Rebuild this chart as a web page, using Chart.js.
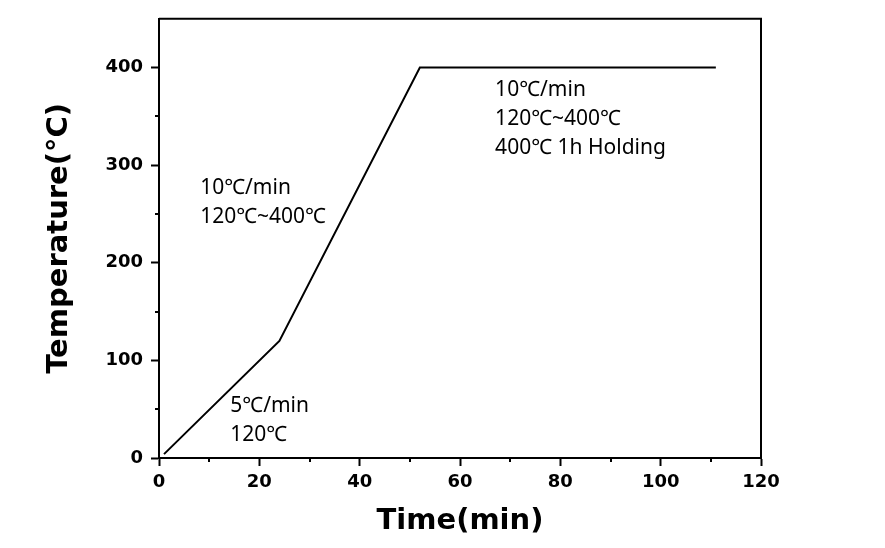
<!DOCTYPE html>
<html>
<head>
<meta charset="utf-8">
<script src="https://cdn.jsdelivr.net/npm/chart.js@4"></script>
<style>
  body { margin: 0; background: #fff; }
  #wrap { width: 885px; height: 548px; }
</style>
</head>
<body>
<div id="wrap"><canvas id="profile"></canvas></div>
<script>
// heating profile
var timeMin = [1, 24, 52, 111];
var tempC = [4, 120, 400, 400];

var xTicks = [0, 20, 40, 60, 80, 100, 120];
var xMinor = [10, 30, 50, 70, 90, 110];
var yTicks = [0, 100, 200, 300, 400];
var yMinor = [50, 150, 250, 350];

// text notes, anchored in data units (left edge, first baseline)
var notes = [
  { x: 8.2, y: 271, lines: ['10℃/min', '120℃~400℃'] },
  { x: 67, y: 371, lines: ['10℃/min', '120℃~400℃', '400℃ 1h Holding'] },
  { x: 14.2, y: 47, lines: ['5℃/min', '120℃'] }
];

var points = timeMin.map(function (t, i) { return { x: t, y: tempC[i] }; });

var tickFont = { family: 'DejaVu Sans', weight: 'bold', size: 18 };
var titleFont = { family: 'DejaVu Sans', weight: 'bold', size: 29 };

var extras = {
  id: 'extras',
  afterDraw: function (chart) {
    var ctx = chart.ctx;
    var a = chart.chartArea;
    var xs = chart.scales.x, ys = chart.scales.y;
    ctx.save();
    ctx.strokeStyle = '#000';
    ctx.lineWidth = 2;
    // top and right sides of the frame
    ctx.beginPath();
    ctx.moveTo(a.left, a.top);
    ctx.lineTo(a.right, a.top);
    ctx.lineTo(a.right, a.bottom);
    ctx.stroke();
    // minor ticks
    ctx.beginPath();
    xMinor.forEach(function (v) {
      var px = Math.round(xs.getPixelForValue(v));
      ctx.moveTo(px, a.bottom);
      ctx.lineTo(px, a.bottom + 4);
    });
    yMinor.forEach(function (v) {
      var py = Math.round(ys.getPixelForValue(v));
      ctx.moveTo(a.left, py);
      ctx.lineTo(a.left - 4, py);
    });
    ctx.stroke();
    // notes
    ctx.fillStyle = '#000';
    ctx.font = '21px "Noto Sans", "Noto Sans CJK KR", sans-serif';
    ctx.textAlign = 'left';
    ctx.textBaseline = 'alphabetic';
    notes.forEach(function (n) {
      var px = xs.getPixelForValue(n.x);
      var py = ys.getPixelForValue(n.y);
      n.lines.forEach(function (s, i) {
        ctx.fillText(s, px, py + i * 29);
      });
    });
    ctx.restore();
  }
};

new Chart(document.getElementById('profile'), {
  type: 'scatter',
  data: {
    datasets: [{
      data: points,
      showLine: true,
      borderColor: '#000',
      borderWidth: 2,
      pointRadius: 0,
      fill: false
    }]
  },
  options: {
    responsive: true,
    maintainAspectRatio: false,
    animation: false,
    layout: { padding: { left: 20, right: 124, top: 17, bottom: 0 } },
    plugins: { legend: { display: false }, tooltip: { enabled: false } },
    scales: {
      x: {
        type: 'linear',
        min: 0,
        max: 120,
        afterBuildTicks: function (axis) { axis.ticks = xTicks.map(function (v) { return { value: v }; }); },
        afterFit: function (axis) { axis.height = 90; },
        grid: { drawOnChartArea: false, drawTicks: true, tickLength: 8, tickWidth: 2, tickColor: '#000' },
        border: { display: true, color: '#000', width: 2 },
        ticks: { color: '#000', font: tickFont, padding: 6, maxRotation: 0 },
        title: { display: true, text: 'Time(min)', color: '#000', font: titleFont, padding: { top: 0, bottom: 9 } }
      },
      y: {
        type: 'linear',
        min: 0,
        max: 450,
        afterBuildTicks: function (axis) { axis.ticks = yTicks.map(function (v) { return { value: v }; }); },
        afterFit: function (axis) { axis.width = 139; },
        grid: { drawOnChartArea: false, drawTicks: true, tickLength: 8, tickWidth: 2, tickColor: '#000' },
        border: { display: true, color: '#000', width: 2 },
        ticks: { color: '#000', font: tickFont, padding: 8 },
        title: { display: true, text: 'Temperature(°C)', color: '#000', font: titleFont, padding: { top: 22, bottom: 0 } }
      }
    }
  },
  plugins: [extras]
});
</script>
</body>
</html>
